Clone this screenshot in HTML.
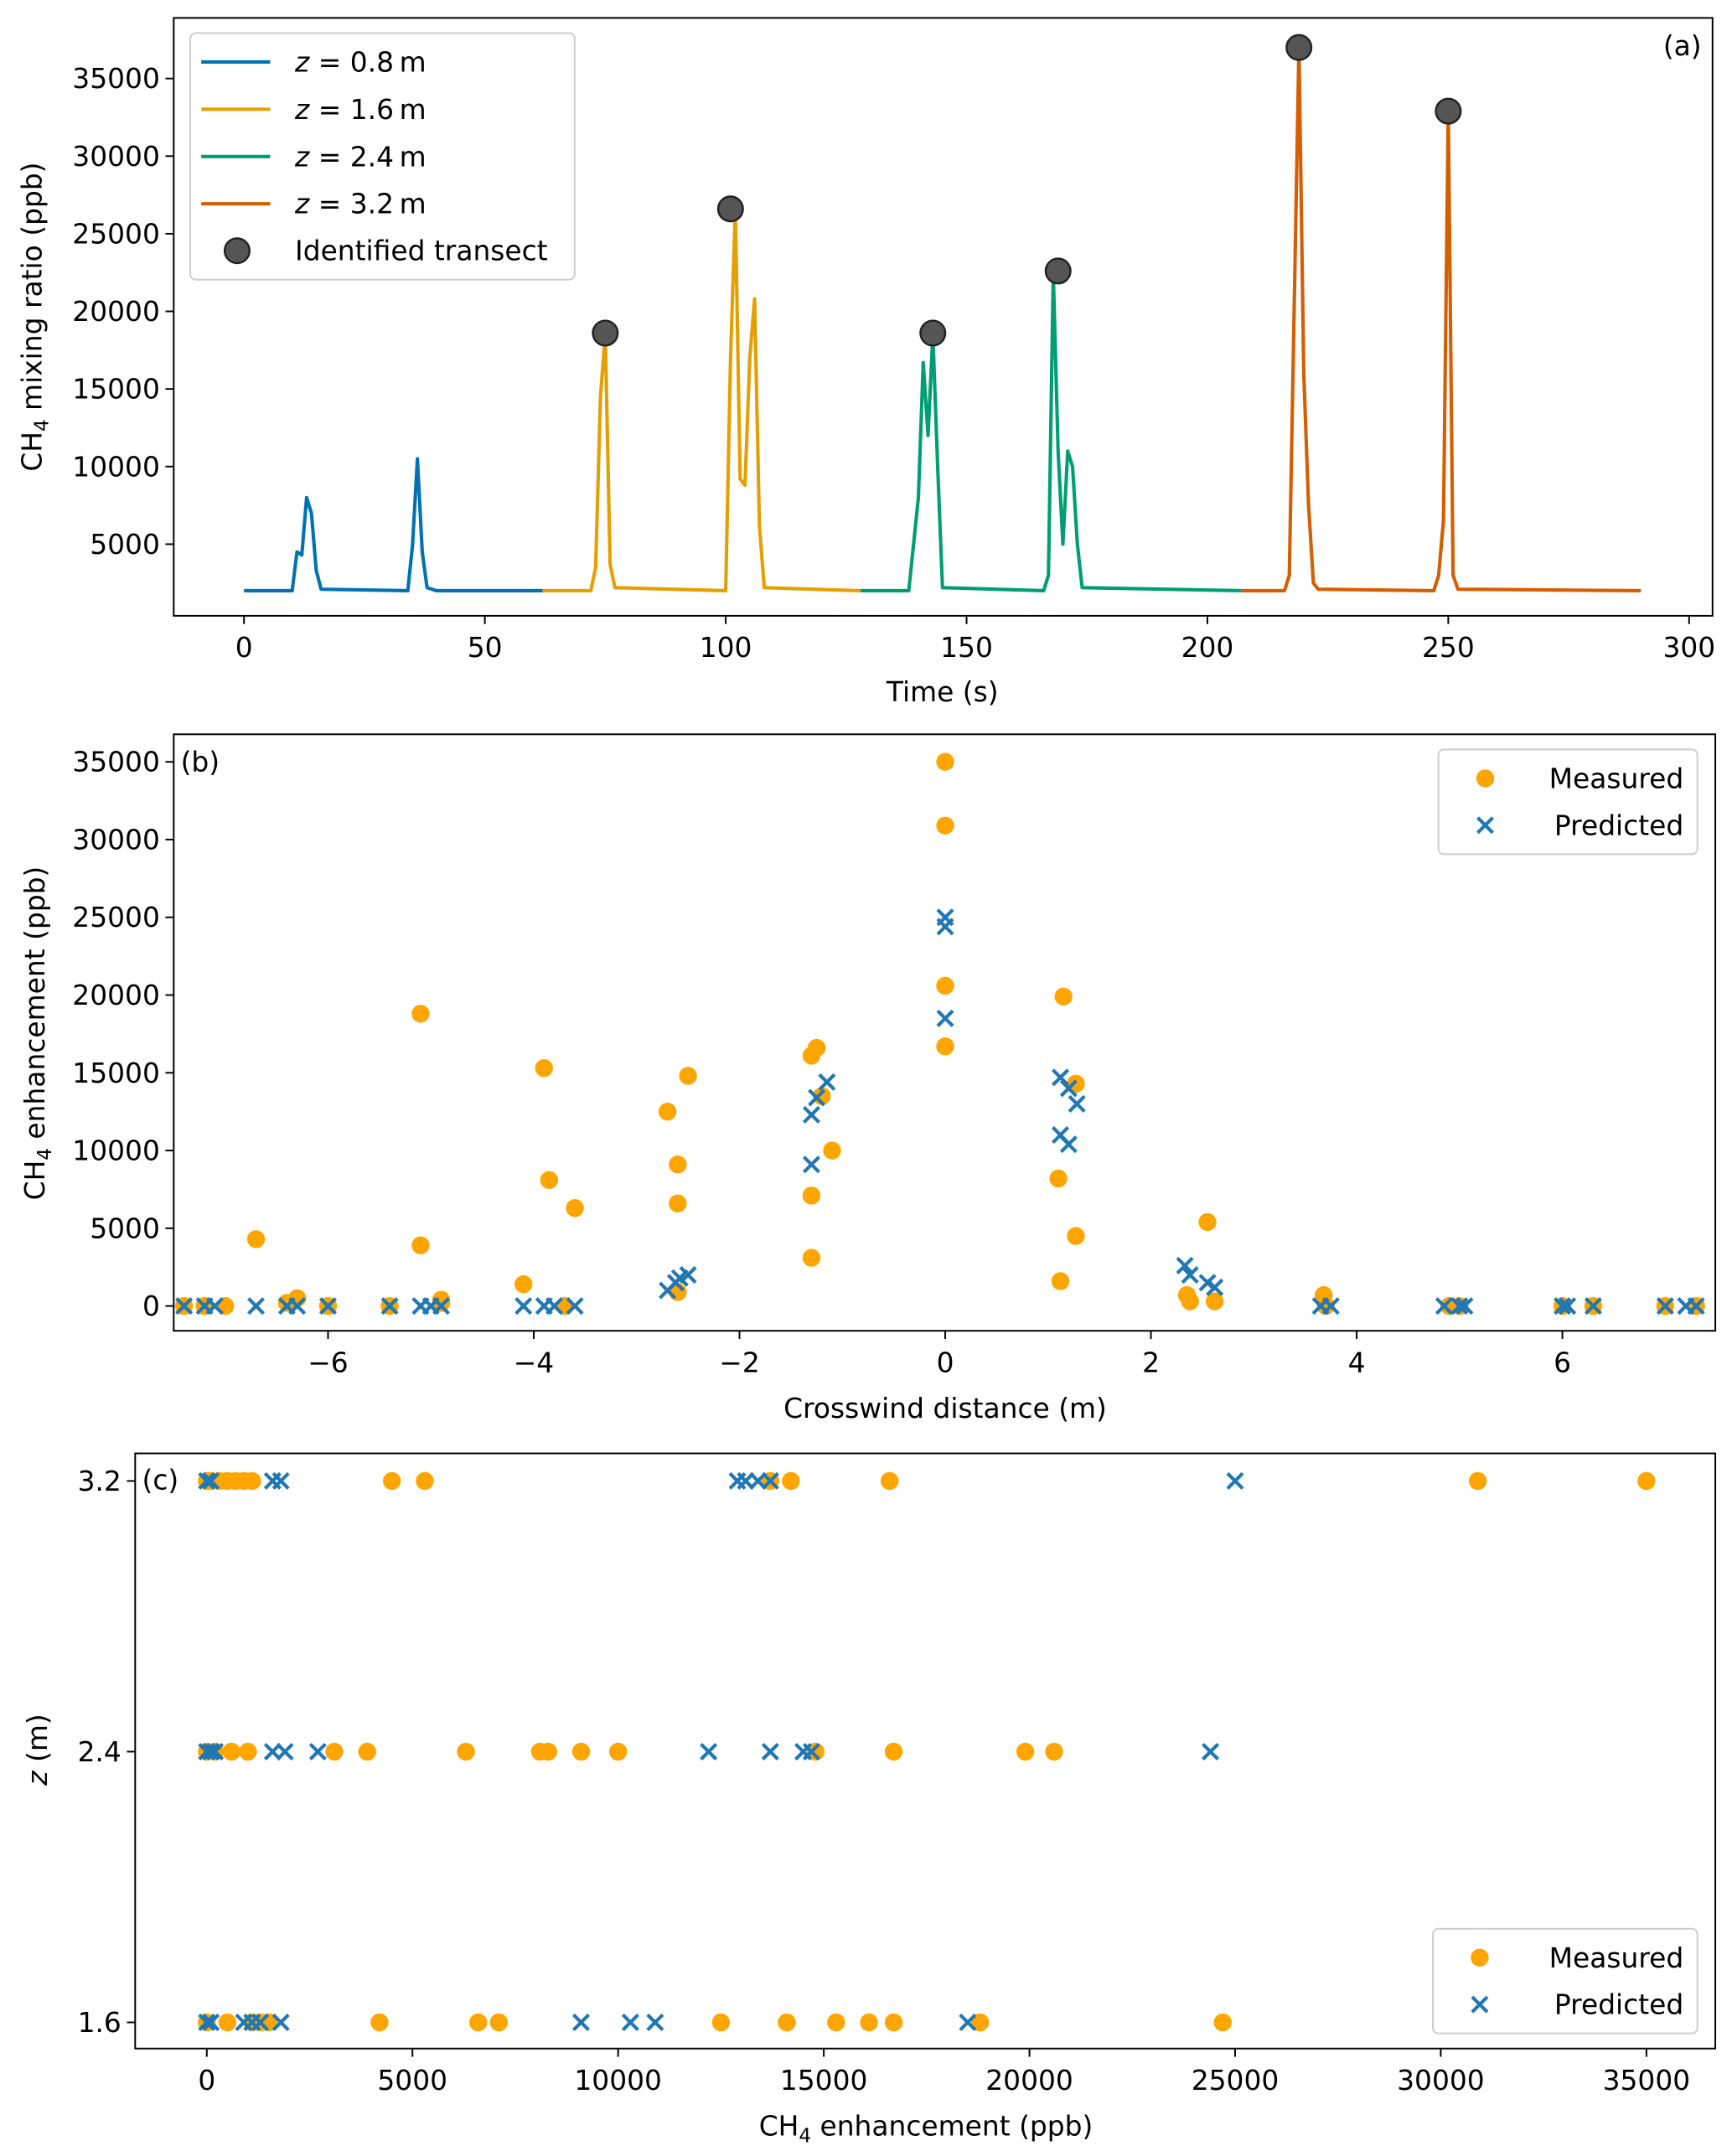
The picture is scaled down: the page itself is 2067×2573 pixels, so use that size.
<!DOCTYPE html>
<html><head><meta charset="utf-8">
<style>
html,body{margin:0;padding:0;background:#fff;}
svg{display:block;}
text{font-family:"DejaVu Sans","Liberation Sans",sans-serif;fill:#000;}
</style></head>
<body>
<svg id="fig" width="2067" height="2573" viewBox="0 0 1257 1565" xmlns="http://www.w3.org/2000/svg"></svg>
<script>
// ---- Panel (a) data ----
const blueT=[0,10,11,12,13,14,15,16,34,35,36,37,38,40,62];
const blueV=[2000,2000,4500,4300,8000,7000,3300,2100,2000,5000,10500,4500,2200,2000,2000];
const orangeT=[62,72,73,74,75,76,77,100,101,102,103,104,105,106,107,108,128];
const orangeV=[2000,2000,3500,14500,18500,3700,2200,2000,17000,26500,9200,8800,17000,20800,6200,2200,2000];
const greenT=[128,138,140,141,142,143,144,145,166,167,168,169,170,171,172,173,174,207];
const greenV=[2000,2000,8000,16700,12000,18500,10000,2200,2000,3000,22500,11000,5000,11000,10000,5000,2200,2000];
const redT=[207,216,217,219,220,221,222,223,247,248,249,250,251,252,290];
const redV=[2000,2000,3000,37000,16000,7500,2500,2100,2000,3000,6500,33000,3000,2100,2000];
const transectT=[75,101,143,169,219,250];
const transectV=[18600,26600,18600,22600,37000,32900];
const aXTicks=[0,50,100,150,200,250,300];
const aYTicks=[5000,10000,15000,20000,25000,30000,35000];
// ---- Panel (b) data ----
const measX=[-7.4,-7.2,-7.0,-6.7,-6.4,-6.3,-6.0,-5.4,-5.1,-5.1,-4.9,-4.9,-4.1,-3.9,-3.85,-3.7,-3.6,-2.7,-2.6,-2.6,-2.5,-2.6,-1.3,-1.25,-1.3,-1.3,-1.1,-1.2,0,0,0,0,1.15,1.1,1.12,1.27,1.27,2.35,2.38,2.55,2.62,3.68,3.7,4.9,5.0,6.0,6.3,7.0,7.3];
const measY=[0,0,0,4300,200,500,0,0,18800,3900,400,200,1400,15300,8100,0,6300,12500,9100,6600,14800,900,16100,16600,7100,3100,10000,13500,35000,30900,20600,16700,19900,8200,1600,14300,4500,700,300,5400,300,700,0,0,0,0,0,0,0];
const predX=[-7.4,-7.2,-7.1,-6.7,-6.4,-6.3,-6.0,-5.4,-5.1,-5.0,-4.9,-4.1,-3.9,-3.8,-3.6,-2.7,-2.62,-2.58,-2.5,-1.3,-1.3,-1.25,-1.15,0,0,0,1.12,1.12,1.2,1.2,1.28,2.33,2.38,2.55,2.62,3.65,3.75,4.85,5.0,5.05,6.0,6.05,6.3,7.0,7.2,7.3];
const predY=[0,0,0,0,0,0,0,0,0,0,0,0,0,0,0,1000,1500,1800,2000,9100,12300,13400,14400,25000,24400,18500,14700,11000,14000,10400,13000,2600,2000,1500,1200,0,0,0,0,0,0,0,0,0,0,0];
const bXTicks=[-6,-4,-2,0,2,4,6];
const bYTicks=[0,5000,10000,15000,20000,25000,30000,35000];
// ---- Panel (c) data ----
const cMeas32=[0,100,300,500,700,900,1100,4500,5300,13700,14200,16600,30900,35000];
const cPred32=[0,100,1600,1800,12900,13100,13400,13700,25000];
const cMeas24=[0,200,600,1000,3100,3900,6300,8100,8300,9100,10000,14800,16700,19900,20600];
const cPred24=[0,100,200,1600,1900,2700,12200,13700,14500,14700,24400];
const cMeas16=[0,500,1100,1300,1500,4200,6600,7100,12500,14100,15300,16100,16700,18800,24700];
const cPred16=[0,100,900,1100,1300,1800,9100,10300,10900,18500];
const cXTicks=[0,5000,10000,15000,20000,25000,30000,35000];
const cYTicks=[1.6,2.4,3.2];

const NS="http://www.w3.org/2000/svg";
const svg=document.getElementById('fig');
function el(tag,attrs,parent){const e=document.createElementNS(NS,tag);for(const k in attrs)e.setAttribute(k,attrs[k]);(parent||svg).appendChild(e);return e;}
function txt(x,y,s,attrs,name){const t=el('text',Object.assign({x:x,y:y,'font-size':20},attrs||{}));t.textContent=s;


return t;}
function lin(d0,d1,r0,r1){return v=>r0+(v-d0)*(r1-r0)/(d1-d0);}
function fmt(v){return (v<0?'\u2212':'')+Math.abs(v);}
const MO='#ffa500', PB='#1f77b4';
function circle(g,x,y,c,r){const e=el('circle',{cx:x,cy:y,r:r||6.5,fill:c},g);

}
function cross(g,x,y,c){const s=5.5;const e=el('path',{d:`M${x-s},${y-s}L${x+s},${y+s}M${x-s},${y+s}L${x+s},${y-s}`,stroke:c,'stroke-width':2.5,fill:'none'},g);

}
function frame(x0,y0,x1,y1,name){const r=el('rect',{x:x0,y:y0,width:x1-x0,height:y1-y0,fill:'none',stroke:'#000','stroke-width':1.2});

}
function xticks(ticks,sx,y,fm){ticks.forEach(t=>{const x=sx(t);el('line',{x1:x,x2:x,y1:y,y2:y+6,stroke:'#000','stroke-width':1.2});txt(x,y+30,fm(t),{'text-anchor':'middle'},'x-tick-label');});}
function yticks(ticks,sy,x,fm){ticks.forEach(t=>{const y=sy(t);el('line',{x1:x-6,x2:x,y1:y,y2:y,stroke:'#000','stroke-width':1.2});txt(x-10,y+7,fm(t),{'text-anchor':'end'},'y-tick-label');});}

// ===== Panel a =====
const ax=lin(0,300,177,1226), ay=lin(5000,35000,395,57);
const ga=el('g',{});
[[blueT,blueV,'#0072b2','series-z-0.8'],[orangeT,orangeV,'#e69f00','series-z-1.6'],[greenT,greenV,'#009e73','series-z-2.4'],[redT,redV,'#d55e00','series-z-3.2']].forEach(([T,V,c,n])=>{
 const p=el('polyline',{points:T.map((t,i)=>ax(t)+','+ay(V[i])).join(' '),fill:'none',stroke:c,'stroke-width':2.5,'stroke-linejoin':'round'},ga);
 
 
});
transectT.forEach((t,i)=>{const c=el('circle',{cx:ax(t),cy:ay(transectV[i]),r:9,fill:'#555',stroke:'#222','stroke-width':1.5},ga);

});
frame(126,13,1243,447,'plot-area-a');
xticks(aXTicks,ax,447,fmt);yticks(aYTicks,ay,126,fmt);
txt(684,509,'Time (s)',{'text-anchor':'middle'},'x-axis-title-a');
txt(1235,40,'(a)',{'text-anchor':'end'},'panel-label-a');
{const t=txt(0,0,'',{transform:'translate(30,230) rotate(-90)','text-anchor':'middle'},'y-axis-title-a');t.innerHTML='CH<tspan font-size="14" dy="5">4</tspan><tspan dy="-5"> mixing ratio (ppb)</tspan>';}
// legend a
const la=el('g',{});
el('rect',{x:138,y:24,width:279,height:179,rx:4,fill:'#fff',stroke:'#ccc','stroke-width':1.2},la);
[['#0072b2','0.8'],['#e69f00','1.6'],['#009e73','2.4'],['#d55e00','3.2']].forEach(([c,z],i)=>{const y=45+i*34.3;
 el('line',{x1:146,x2:196,y1:y,y2:y,stroke:c,'stroke-width':2.5},la);
 const t=txt(214,y+7,'',{},'legend-entry');t.innerHTML='<tspan font-style="italic">z</tspan> = '+z+'\u2009m';});
el('circle',{cx:172,cy:182,r:9,fill:'#555',stroke:'#222','stroke-width':1.5},la);
txt(214,189,'Identified transect',{},'legend-entry');

// ===== Panel b =====
const bx=lin(0,6,686,1134), by=lin(0,35000,948,553);
const gb=el('g',{});
measX.forEach((x,i)=>circle(gb,bx(x),by(measY[i]),MO));
predX.forEach((x,i)=>cross(gb,bx(x),by(predY[i]),PB));
frame(126,533,1245,966,'plot-area-b');
xticks(bXTicks,bx,966,fmt);yticks(bYTicks,by,126,fmt);
txt(686,1029,'Crosswind distance (m)',{'text-anchor':'middle'},'x-axis-title-b');
txt(131,560,'(b)',{},'panel-label-b');
{const t=txt(0,0,'',{transform:'translate(32,750) rotate(-90)','text-anchor':'middle'},'y-axis-title-b');t.innerHTML='CH<tspan font-size="14" dy="5">4</tspan><tspan dy="-5"> enhancement (ppb)</tspan>';}
function legendMP(x0,y0,w,name){const g=el('g',{});
 el('rect',{x:x0,y:y0,width:w,height:76,rx:4,fill:'#fff',stroke:'#ccc','stroke-width':1.2},g);
 circle(g,x0+34,y0+21,MO);cross(g,x0+34,y0+55,PB);
 txt(x0+w-10,y0+28,'Measured',{'text-anchor':'end'},'legend-entry');txt(x0+w-10,y0+62,'Predicted',{'text-anchor':'end'},'legend-entry');}
legendMP(1044,544,188,'legend-b');

// ===== Panel c =====
const cx=lin(0,35000,150,1195), cy=lin(1.6,3.2,1468,1075);
const gc=el('g',{});
[[cMeas32,3.2],[cMeas24,2.4],[cMeas16,1.6]].forEach(([a,z])=>a.forEach(v=>circle(gc,cx(v),cy(z),MO)));
[[cPred32,3.2],[cPred24,2.4],[cPred16,1.6]].forEach(([a,z])=>a.forEach(v=>cross(gc,cx(v),cy(z),PB)));
frame(98,1055,1245,1487,'plot-area-c');
xticks(cXTicks,cx,1487,fmt);yticks(cYTicks,cy,98,v=>v.toFixed(1));
{const t=txt(672,1550,'',{'text-anchor':'middle'},'x-axis-title-c');t.innerHTML='CH<tspan font-size="14" dy="5">4</tspan><tspan dy="-5"> enhancement (ppb)</tspan>';}
{const t=txt(0,0,'',{transform:'translate(34,1270) rotate(-90)','text-anchor':'middle'},'y-axis-title-c');t.innerHTML='<tspan font-style="italic">z</tspan> (m)';}
txt(103,1081,'(c)',{},'panel-label-c');
legendMP(1040,1400,192,'legend-c');
</script>
</body></html>
